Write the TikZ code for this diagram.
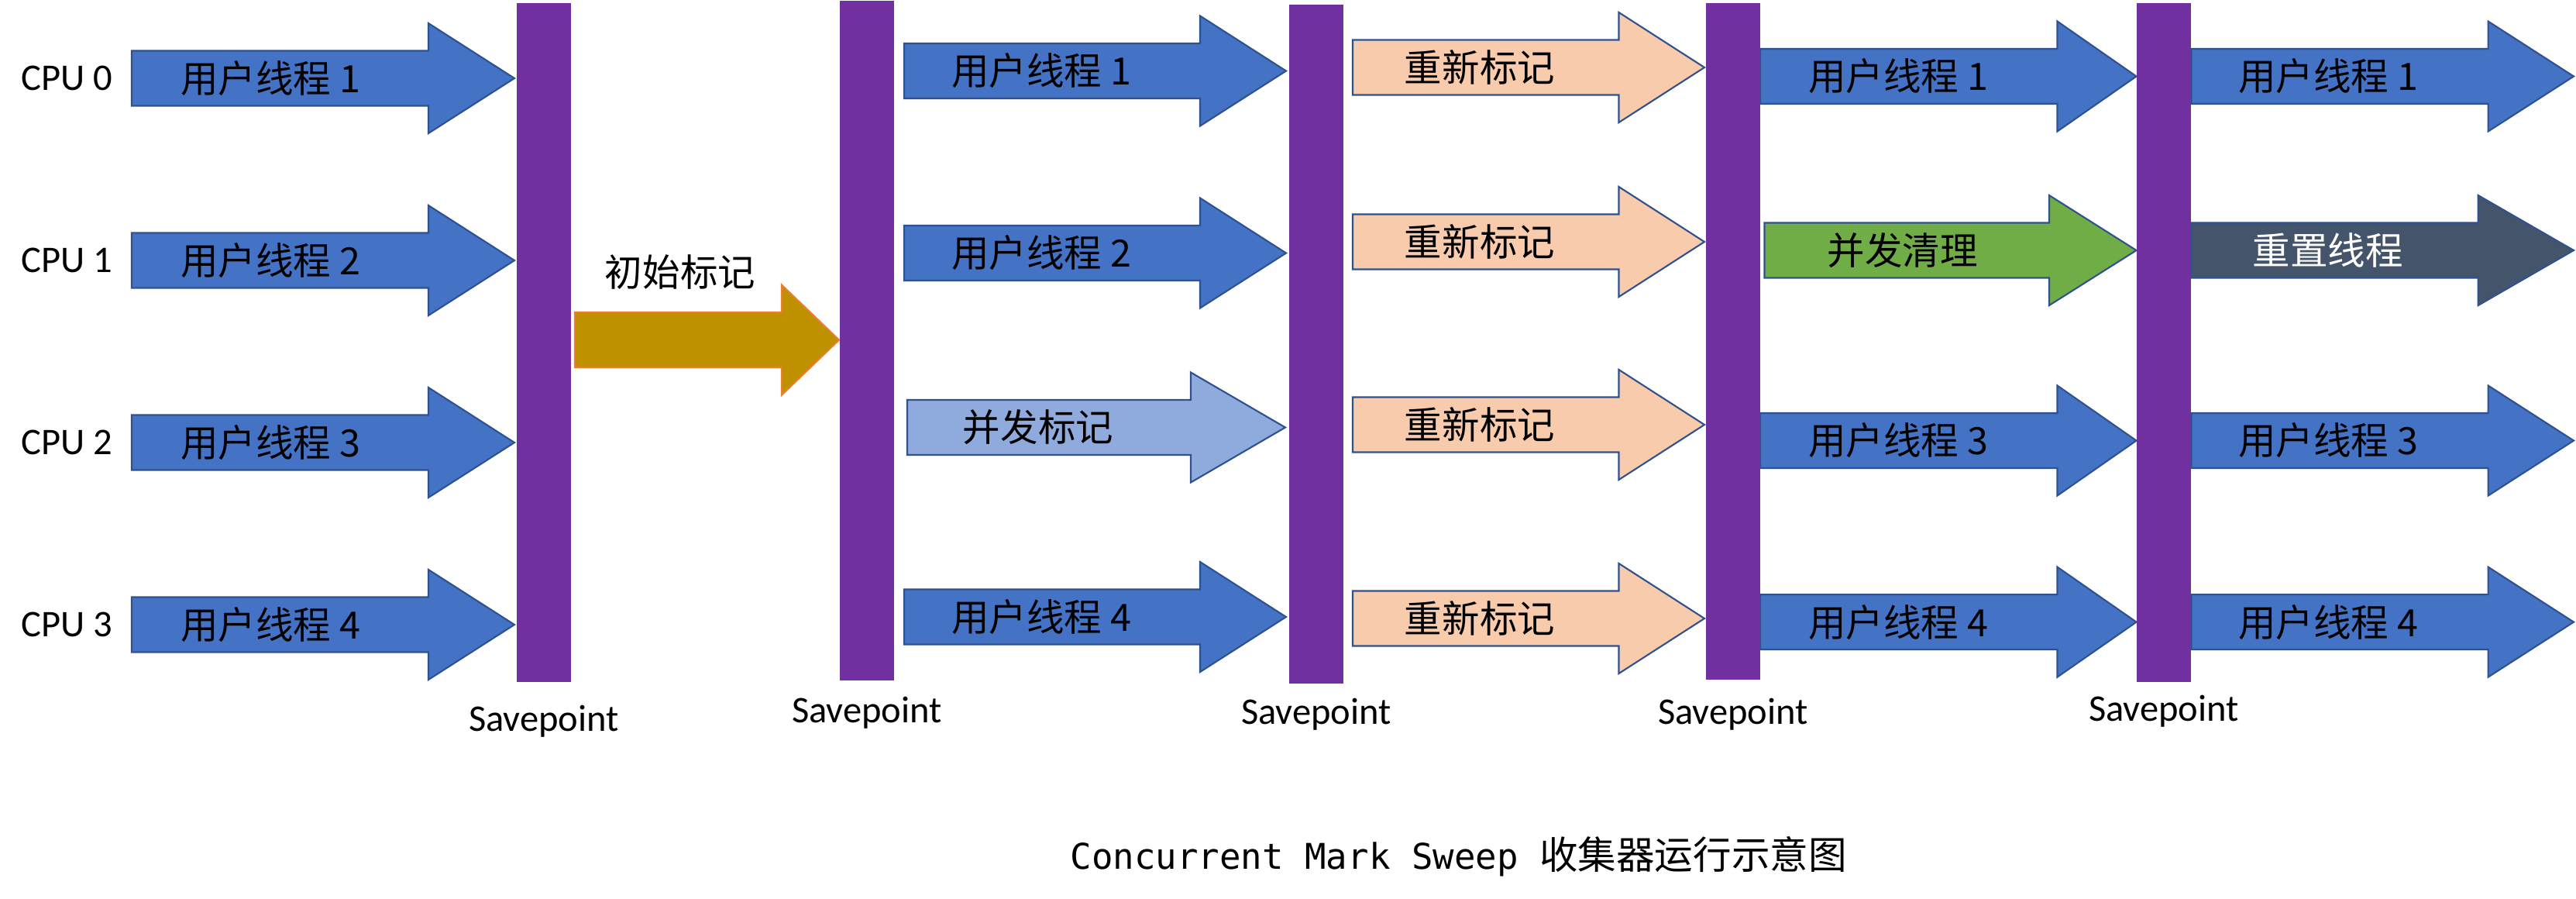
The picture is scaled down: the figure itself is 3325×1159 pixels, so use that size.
\documentclass[tikz,border=0pt]{standalone}
\usepackage{fontspec}
\setmainfont{Carlito}
\setmonofont{DejaVu Sans Mono}
\newfontfamily\cjk{Noto Sans CJK SC}
\definecolor{threadblue}{RGB}{68,114,196}
\definecolor{edgeblue}{RGB}{47,82,143}
\definecolor{savebar}{RGB}{112,48,160}
\definecolor{initgold}{RGB}{191,144,0}
\definecolor{initedge}{RGB}{237,125,49}
\definecolor{remarkpeach}{RGB}{248,203,173}
\definecolor{concmark}{RGB}{143,170,220}
\definecolor{sweepgreen}{RGB}{112,173,71}
\definecolor{resetslate}{RGB}{68,84,106}
\tikzset{blk/.style={draw=edgeblue,line width=.6pt},
 bar/.style={fill=savebar},
 cjklbl/.style={font=\cjk\fontsize{13.8}{16}\selectfont,inner sep=0pt},
 latlbl/.style={font=\fontsize{13.8}{16}\selectfont,inner sep=0pt}}

\begin{document}
\begin{tikzpicture}[x=.01cm,y=-.01cm]
\useasboundingbox (0,0) rectangle (3325,1159);
% user threads before the first savepoint
\foreach \y [count=\k] in {101,336,571,806} {
 \draw[blk,fill=threadblue] (170,\y-35.5)--(553,\y-35.5)--(553,\y-71)--(664,\y)--(553,\y+71)--(553,\y+35.5)--(170,\y+35.5)--cycle;
 \node[cjklbl] (ua\k) at (349,\y) {用户线程 \k};
 \pgfmathtruncatemacro\cpuno{\k-1}
 \node[latlbl,anchor=west] (cpu\k) at (27,\y) {CPU \cpuno};
}
% initial mark
\draw[draw=initedge,line width=.6pt,fill=initgold] (742,403)--(1009,403)--(1009,367.6)--(1083,438.6)--(1009,509.6)--(1009,474)--(742,474)--cycle;
\node[cjklbl] (init) at (878,351) {初始标记};
% concurrent mark
\foreach \y/\k in {91.5/1,326.5/2,796/4} {
 \draw[blk,fill=threadblue] (1167,\y-35.5)--(1549,\y-35.5)--(1549,\y-71)--(1660,\y)--(1549,\y+71)--(1549,\y+35.5)--(1167,\y+35.5)--cycle;
 \node[cjklbl] (ub\k) at (1344,\y) {用户线程 \k};
}
\draw[blk,fill=concmark] (1171,516)--(1537,516)--(1537,480.5)--(1659,551.5)--(1537,622.5)--(1537,587)--(1171,587)--cycle;
\node[cjklbl] (cmark) at (1340,551.5) {并发标记};
% remark
\foreach \y [count=\k] in {87,312,548,798} {
 \draw[blk,fill=remarkpeach] (1746,\y-35.5)--(2089.5,\y-35.5)--(2089.5,\y-71)--(2200,\y)--(2089.5,\y+71)--(2089.5,\y+35.5)--(1746,\y+35.5)--cycle;
 \node[cjklbl] (remark\k) at (1910,\y) {重新标记};
}
% concurrent sweep and reset
\foreach \l/\h/\t/\tx/\col in {2272/2655.5/2757.5/2450/c,2828.5/3211.6/3322/3005/d}
 \foreach \y/\k in {98.5/1,568.5/3,802.6/4} {
 \draw[blk,fill=threadblue] (\l,\y-35.5)--(\h,\y-35.5)--(\h,\y-71)--(\t,\y)--(\h,\y+71)--(\h,\y+35.5)--(\l,\y+35.5)--cycle;
 \node[cjklbl] (u\col\k) at (\tx,\y) {用户线程 \k};
}
\draw[blk,fill=sweepgreen] (2277.5,287.5)--(2645,287.5)--(2645,252)--(2757.5,323)--(2645,394)--(2645,358.5)--(2277.5,358.5)--cycle;
\node[cjklbl] (csweep) at (2455.6,323) {并发清理};
\draw[blk,fill=resetslate] (2828.5,287.5)--(3198.7,287.5)--(3198.7,252)--(3322,323)--(3198.7,394)--(3198.7,358.5)--(2828.5,358.5)--cycle;
\node[cjklbl,text=white] (reset) at (3004.6,323) {重置线程};
% savepoints
\foreach \x/\top/\bot/\base [count=\i] in {667/4/880/943,1084/1/878/932,1664/6/882/934.5,2202/4/877/934.5,2758/4/880/930.6} {
 \fill[bar] (\x,\top) rectangle (\x+70,\bot);
 \node[latlbl,anchor=base] (save\i) at (\x+35,\base) {Savepoint};
}
\node[anchor=base west,inner sep=0pt] (caption) at (1381,1121) {\fontsize{13}{16}\selectfont\ttfamily Concurrent Mark Sweep {\cjk\fontsize{14.1}{16}\selectfont 收集器运行示意图}};
\end{tikzpicture}
\end{document}
